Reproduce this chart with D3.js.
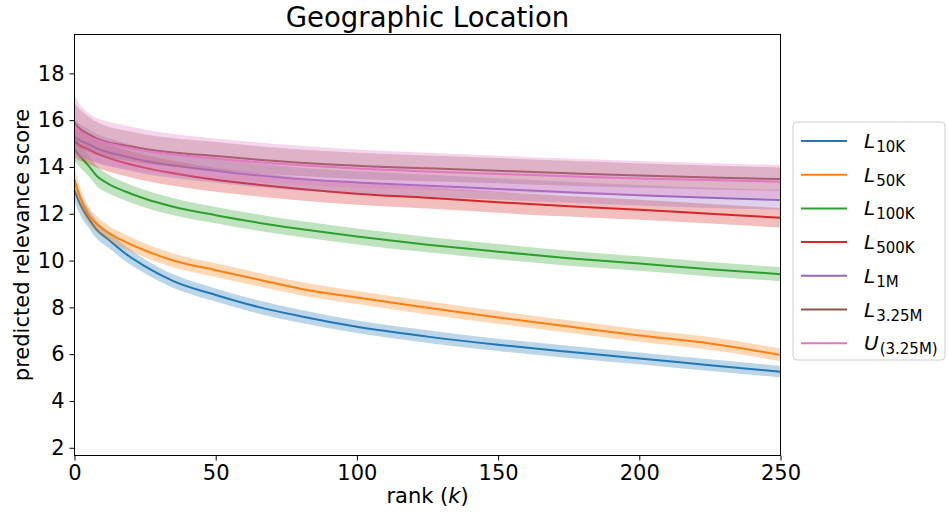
<!DOCTYPE html>
<html>
<head>
<meta charset="utf-8">
<script src="https://cdn.jsdelivr.net/npm/d3@7"></script>
<style>
  body { margin: 0; background: #fff; }
  svg { font-family: "DejaVu Sans", sans-serif; }
</style>
</head>
<body>
<svg id="chart" width="948" height="516"></svg>
<script>
var ranks = [0, 2, 5, 8, 12, 18, 25, 35, 50, 65, 80, 100, 125, 150, 175, 200, 225, 250];

// mean predicted relevance score per series
var l10k   = [13.0, 12.4, 11.8, 11.3, 10.9, 10.3, 9.75, 9.12, 8.53, 8.02, 7.62, 7.17, 6.75, 6.4, 6.1, 5.82, 5.53, 5.25];
var l50k   = [13.45, 12.7, 11.95, 11.55, 11.18, 10.8, 10.43, 10.0, 9.59, 9.19, 8.8, 8.42, 7.98, 7.57, 7.18, 6.8, 6.46, 5.97];
var l100k  = [14.75, 14.45, 14.05, 13.6, 13.28, 12.95, 12.64, 12.3, 11.94, 11.62, 11.35, 11.03, 10.68, 10.38, 10.1, 9.87, 9.63, 9.42];
var l500k  = [15.1, 14.92, 14.75, 14.57, 14.39, 14.17, 13.96, 13.73, 13.45, 13.24, 13.06, 12.86, 12.68, 12.49, 12.32, 12.17, 12.0, 11.83];
var l1m    = [15.28, 15.12, 14.97, 14.79, 14.63, 14.45, 14.25, 14.06, 13.84, 13.64, 13.48, 13.34, 13.2, 13.06, 12.92, 12.79, 12.68, 12.59];
var l325m  = [15.88, 15.62, 15.4, 15.21, 15.05, 14.92, 14.77, 14.62, 14.47, 14.31, 14.18, 14.05, 13.94, 13.84, 13.73, 13.63, 13.55, 13.48];
var u325m  = [15.75, 15.5, 15.3, 15.14, 15.0, 14.85, 14.69, 14.53, 14.36, 14.2, 14.07, 13.93, 13.81, 13.7, 13.6, 13.51, 13.44, 13.37];

// half width of the shaded band
var l10kSd  = [0.5, 0.45, 0.4, 0.38, 0.35, 0.33, 0.3, 0.29, 0.28, 0.28, 0.28, 0.27, 0.27, 0.26, 0.26, 0.25, 0.25, 0.25];
var l50kSd  = [0.5, 0.42, 0.36, 0.34, 0.32, 0.31, 0.3, 0.3, 0.29, 0.29, 0.28, 0.28, 0.28, 0.27, 0.27, 0.27, 0.27, 0.27];
var l100kSd = [0.5, 0.48, 0.45, 0.43, 0.4, 0.38, 0.37, 0.36, 0.35, 0.35, 0.34, 0.34, 0.33, 0.33, 0.32, 0.31, 0.31, 0.3];
var l500kSd = [0.7, 0.66, 0.62, 0.6, 0.58, 0.56, 0.55, 0.53, 0.51, 0.5, 0.49, 0.47, 0.46, 0.45, 0.44, 0.43, 0.42, 0.42];
var l1mSd   = [0.75, 0.7, 0.65, 0.62, 0.6, 0.57, 0.55, 0.53, 0.51, 0.5, 0.49, 0.48, 0.47, 0.46, 0.45, 0.44, 0.43, 0.42];
var l325mSd = [0.9, 0.82, 0.75, 0.7, 0.67, 0.64, 0.62, 0.61, 0.6, 0.58, 0.57, 0.56, 0.55, 0.54, 0.53, 0.52, 0.51, 0.5];
var u325mSd = [1.32, 1.15, 1.0, 0.95, 0.93, 0.92, 0.9, 0.88, 0.86, 0.85, 0.84, 0.82, 0.8, 0.78, 0.76, 0.74, 0.72, 0.71];

var seriesNames = ["L|10K", "L|50K", "L|100K", "L|500K", "L|1M", "L|3.25M", "U|(3.25M)"];
var seriesColors = ["#1f77b4", "#ff7f0e", "#2ca02c", "#d62728", "#9467bd", "#8c564b", "#e377c2"];
var seriesMeans = [l10k, l50k, l100k, l500k, l1m, l325m, u325m];
var seriesSds = [l10kSd, l50kSd, l100kSd, l500kSd, l1mSd, l325mSd, u325mSd];

var xTicks = [0, 50, 100, 150, 200, 250];
var yTicks = [2, 4, 6, 8, 10, 12, 14, 16, 18];

var svg = d3.select("#chart");
var margin = {top: 34.5, left: 74.5, right: 167.5, bottom: 60.5};
var width = 948 - margin.left - margin.right,
    height = 516 - margin.top - margin.bottom;

var x = d3.scaleLinear().domain([0, 250]).range([0, width]);
var y = d3.scaleLinear().domain([1.67, 19.66]).range([height, 0]);

var g = svg.append("g")
    .attr("transform", "translate(" + margin.left + "," + margin.top + ")");

var area = d3.area()
    .x(function(d){ return x(d.k); })
    .y0(function(d){ return y(d.m - d.s); })
    .y1(function(d){ return y(d.m + d.s); })
    .curve(d3.curveMonotoneX);
var line = d3.line()
    .x(function(d){ return x(d.k); })
    .y(function(d){ return y(d.m); })
    .curve(d3.curveMonotoneX);

seriesNames.forEach(function(name, i){
    var pts = ranks.map(function(k, j){
        return {k: k, m: seriesMeans[i][j], s: seriesSds[i][j]};
    });
    g.append("path")
        .attr("d", area(pts))
        .attr("fill", seriesColors[i])
        .attr("fill-opacity", 0.3)
        .attr("stroke", "none");
    g.append("path")
        .attr("d", line(pts))
        .attr("fill", "none")
        .attr("stroke", seriesColors[i])
        .attr("stroke-width", 2);
});

// axes
var xAxis = g.append("g")
    .attr("transform", "translate(0," + height + ")")
    .call(d3.axisBottom(x).tickValues(xTicks).tickSize(5).tickPadding(5));
var yAxis = g.append("g")
    .call(d3.axisLeft(y).tickValues(yTicks).tickSize(5).tickPadding(5));
[xAxis, yAxis].forEach(function(a){
    a.select(".domain").remove();
    a.selectAll("text").attr("font-size", 21).attr("fill", "#000")
        .attr("font-family", "DejaVu Sans");
    a.selectAll("line").attr("stroke", "#000");
});

g.append("rect")
    .attr("width", width)
    .attr("height", height)
    .attr("fill", "none")
    .attr("stroke", "#000")
    .attr("stroke-width", 1);

// titles
svg.append("text")
    .attr("x", margin.left + width / 2)
    .attr("y", 27)
    .attr("text-anchor", "middle")
    .attr("font-size", 27.5)
    .text("Geographic Location");

var xl = svg.append("text")
    .attr("x", margin.left + width / 2)
    .attr("y", 503)
    .attr("text-anchor", "middle")
    .attr("font-size", 21);
xl.append("tspan").text("rank (");
xl.append("tspan").attr("font-style", "italic").text("k");
xl.append("tspan").text(")");

svg.append("text")
    .attr("transform", "translate(29," + (margin.top + height / 2) + ") rotate(-90)")
    .attr("text-anchor", "middle")
    .attr("font-size", 21)
    .text("predicted relevance score");

// legend
var lg = svg.append("g").attr("transform", "translate(793,122)");
lg.append("rect")
    .attr("width", 152)
    .attr("height", 238)
    .attr("rx", 4)
    .attr("fill", "#fff")
    .attr("fill-opacity", 0.8)
    .attr("stroke", "#ccc")
    .attr("stroke-width", 1);
seriesNames.forEach(function(name, i){
    var parts = name.split("|");
    var row = lg.append("g").attr("transform", "translate(0," + (19 + i * 33.7) + ")");
    row.append("line")
        .attr("x1", 8).attr("x2", 54)
        .attr("stroke", seriesColors[i])
        .attr("stroke-width", 2);
    var t = row.append("text")
        .attr("x", 71)
        .attr("y", 7)
        .attr("font-size", 20);
    t.append("tspan").attr("font-style", "italic").text(parts[0]);
    t.append("tspan").attr("font-size", 15).attr("dy", 4).attr("dx", 1).text(parts[1]);
});
</script>
</body>
</html>
